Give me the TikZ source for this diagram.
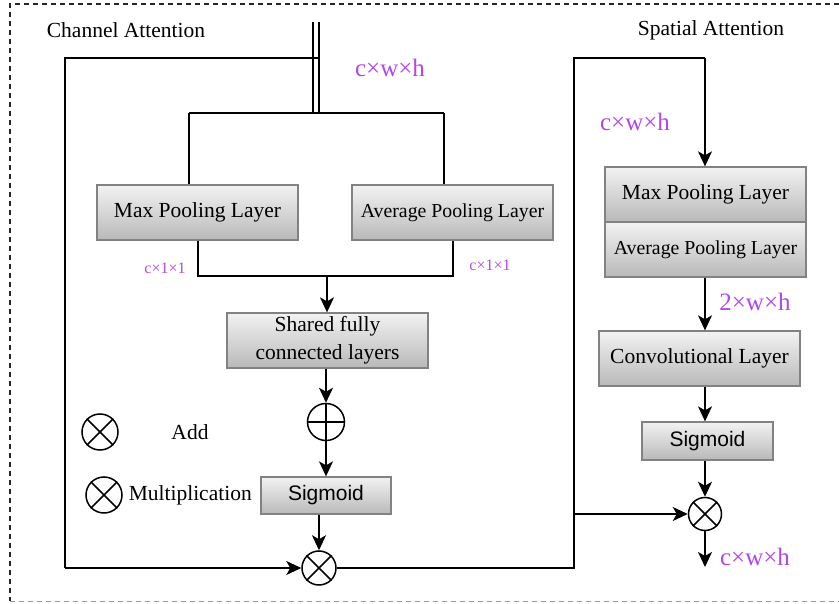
\documentclass[tikz,border=0pt]{standalone}
\usepackage{fontspec}
\setmainfont{Liberation Serif}
\newfontfamily\arialf{Liberation Sans}
\usetikzlibrary{arrows.meta}
\definecolor{dimc}{RGB}{178,70,240}
\definecolor{boxline}{RGB}{130,130,130}
\begin{document}
\begin{tikzpicture}[x=1pt,y=-1pt, line width=1.5pt,
  box/.style={draw=boxline, line width=1.3pt, top color=gray!10, bottom color=gray!55,
     inner sep=0pt, align=center, font=\fontsize{21.5}{28}\selectfont},
  arr/.style={-{Stealth[length=15pt,width=14pt,inset=4pt]}},
  op/.style={circle, draw, line width=1.5pt, inner sep=0pt},
  dim/.style={text=dimc, inner sep=0pt},
  ttl/.style={inner sep=0pt, font=\fontsize{21.5}{24}\selectfont}]
\useasboundingbox (0,0) rectangle (839,604);
% border
\draw[line width=1.1pt, dash pattern=on 5pt off 4pt, black!85] (839,4) -- (10,4) -- (10,601);
\draw[line width=1pt, dash pattern=on 5pt off 4pt, black!40] (10,601) -- (839,601);
% titles
\node[ttl] (tca) at (126,30) {Channel Attention};
\node[ttl] (tsa) at (711,30) {Spatial Attention};
% channel attention boxes
\node[box, minimum width=201pt, minimum height=55pt] (cmax) at (197.5,212.5) {Max Pooling Layer};
\node[box, minimum width=201pt, minimum height=55pt, font=\fontsize{19.8}{24}\selectfont] (cavg) at (452.5,212.5) {Average Pooling Layer};
\node[box, minimum width=201pt, minimum height=55pt] (shared) at (327.5,340.5) {Shared fully\\connected layers};
\node[box, minimum width=130pt, minimum height=37pt, font=\arialf\fontsize{21}{24}\selectfont] (csig) at (326,495.5) {Sigmoid};
\node[op, minimum size=37pt] (add) at (326,422) {};
\draw (add.north) -- (add.south) (add.west) -- (add.east);
\node[op, minimum size=34pt] (cmul) at (319,568) {};
\draw (cmul.north west) -- (cmul.south east) (cmul.north east) -- (cmul.south west);
% spatial attention boxes
\node[box, minimum width=201pt, minimum height=55pt] (smax) at (705.5,194.5) {Max Pooling Layer};
\node[box, minimum width=201pt, minimum height=55pt, font=\fontsize{19.8}{24}\selectfont] (savg) at (705.5,249.5) {Average Pooling Layer};
\node[box, minimum width=201pt, minimum height=55pt] (conv) at (699.5,358.5) {Convolutional Layer};
\node[box, minimum width=131pt, minimum height=38pt, font=\arialf\fontsize{21}{24}\selectfont] (ssig) at (707.5,441) {Sigmoid};
\node[op, minimum size=33pt] (smul) at (705,514) {};
\draw (smul.north west) -- (smul.south east) (smul.north east) -- (smul.south west);
% coordinates
\coordinate (inA) at (313,22);
\coordinate (inB) at (319,22);
\coordinate (inAb) at (313,113);
\coordinate (inBb) at (319,113);
\coordinate (loopT) at (319,58);
\coordinate (loopL) at (65,58);
\coordinate (loopB) at (65,568);
\coordinate (splL) at (189,113);
\coordinate (splR) at (444,113);
\coordinate (mrgL) at (198,276);
\coordinate (mrgR) at (453,276);
\coordinate (mrgC) at (327,276);
\coordinate (rB) at (574,568);
\coordinate (rT) at (574,58);
\coordinate (rR) at (705,58);
\coordinate (rM) at (574,514);
\coordinate (outE) at (705,567);
% input double line
\draw (inA) -- (inAb);
\draw (inB) -- (inBb);
\draw (loopT) -- (loopL) -- (loopB);
\draw[arr] (loopB) -- (cmul.west);
\draw (splL) -- (splR);
\draw (splL) -- (cmax.north -| splL);
\draw (splR) -- (cavg.north -| splR);
\draw (cmax.south -| mrgL) -- (mrgL) -- (mrgR) -- (cavg.south -| mrgR);
\draw[arr] (mrgC) -- (shared.north -| mrgC);
\draw[arr] (shared.south -| add) -- (add.north);
\draw[arr] (add.south) -- (csig.north -| add);
\draw[arr] (csig.south -| cmul) -- (cmul.north);
% right path
\draw (cmul.east) -- (rB) -- (rT) -- (rR);
\draw[arr] (rR) -- (smax.north -| rR);
\draw[arr] (rM) -- (smul.west);
\draw[arr] (savg.south -| smul) -- (conv.north -| smul);
\draw[arr] (conv.south -| smul) -- (ssig.north -| smul);
\draw[arr] (ssig.south -| smul) -- (smul.north);
\draw[arr] (smul.south) -- (outE);
% dimension labels
\node[dim, font=\fontsize{25}{28}\selectfont] (d1) at (390,68) {c×w×h};
\node[dim, font=\fontsize{25}{28}\selectfont] (d2) at (635,122) {c×w×h};
\node[dim, font=\fontsize{25}{28}\selectfont] (d3) at (755,302) {2×w×h};
\node[dim, font=\fontsize{25}{28}\selectfont] (d4) at (755,557) {c×w×h};
\node[dim, font=\fontsize{16}{18}\selectfont] (d5) at (165,268) {c×1×1};
\node[dim, font=\fontsize{16}{18}\selectfont] (d6) at (490,265) {c×1×1};
% legend
\node[op, minimum width=32pt, minimum height=36pt] (lg1) at (100,432) {};
\draw (lg1.north west) -- (lg1.south east) (lg1.north east) -- (lg1.south west);
\node[op, minimum width=32pt, minimum height=36pt] (lg2) at (104,495) {};
\draw (lg2.north west) -- (lg2.south east) (lg2.north east) -- (lg2.south west);
\node[ttl] (ladd) at (190,432) {Add};
\node[ttl, anchor=west] (lmul) at (128,495) {Multiplication};
\end{tikzpicture}
\end{document}
